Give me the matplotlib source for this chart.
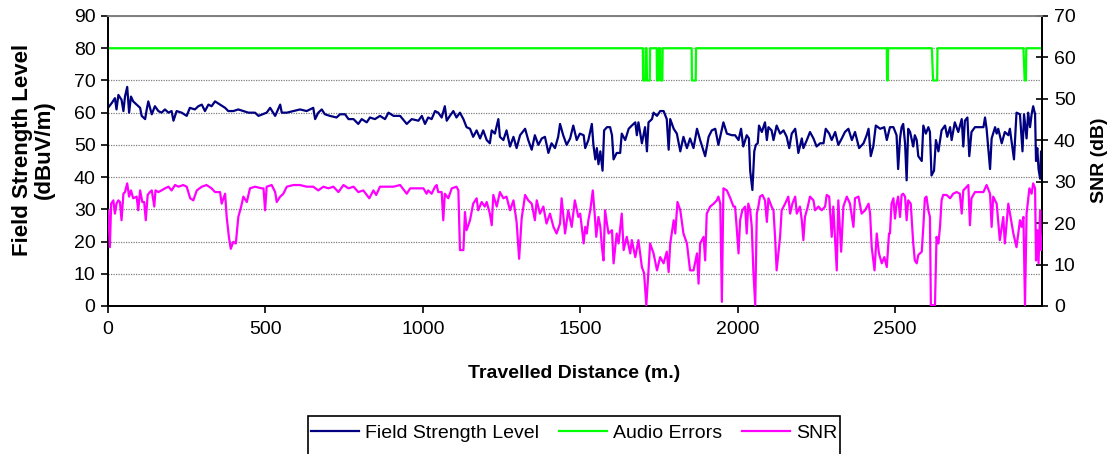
import matplotlib
matplotlib.use("Agg")
import matplotlib.pyplot as plt
from matplotlib.lines import Line2D
from matplotlib.patches import Rectangle

# ---------------- data ----------------
fs_dist = [0, 12, 22, 27, 33, 43, 49, 54, 61, 67, 73, 80, 91, 102, 107, 118, 123, 128, 139, 149,
           160, 170, 181, 192, 202, 208, 218, 234, 250, 260, 276, 287, 298, 308, 319, 329, 340,
           356, 372, 382, 398, 414, 430, 446, 467, 478,
           504, 515, 531, 547, 552, 568, 589, 610, 631, 652, 658, 668, 679, 689, 705, 726, 737,
           753, 764, 780, 795, 806, 822, 832, 848, 864, 880, 891, 907, 928, 949, 965, 986, 997, 1007,
           1017, 1028, 1039, 1049, 1060, 1070, 1076, 1086, 1097, 1107, 1118, 1129, 1139, 1150, 1160,
           1171, 1182, 1192, 1203, 1213, 1219, 1229, 1240, 1245, 1256, 1266, 1277, 1288, 1298, 1309,
           1325, 1335, 1346, 1356, 1367, 1378, 1388, 1399, 1409, 1420, 1430, 1436, 1446, 1457, 1468,
           1478, 1489, 1499,
           1511, 1516, 1526, 1537, 1542, 1548, 1553, 1558, 1564, 1571, 1576, 1585, 1595, 1601, 1606,
           1616, 1627, 1632, 1643, 1654, 1664, 1675, 1680, 1685, 1696, 1706, 1712, 1717, 1728, 1733,
           1744, 1754, 1765, 1775, 1781, 1786, 1797, 1807, 1818, 1828, 1839, 1849, 1860, 1871, 1881,
           1897, 1908, 1918, 1929, 1939, 1955, 1966, 1982,
           1992, 2003, 2011, 2018, 2029, 2036, 2040, 2047, 2053, 2058, 2064, 2068, 2077, 2087, 2093,
           2098, 2108, 2114, 2124, 2135, 2146, 2156, 2164, 2172, 2183, 2188, 2193, 2204, 2209, 2220,
           2230, 2241, 2251, 2262, 2273, 2280, 2291, 2299, 2310, 2320, 2331, 2341, 2352, 2363, 2373,
           2386, 2400, 2410, 2416, 2423, 2431, 2439, 2453, 2466, 2474,
           2484, 2495, 2505, 2510, 2516, 2521, 2526, 2532, 2537, 2542, 2548, 2558, 2563, 2569, 2574,
           2585, 2590, 2598, 2606, 2611, 2616, 2624, 2630, 2638, 2648, 2659, 2666, 2675, 2680, 2690,
           2701, 2712, 2717, 2722, 2730, 2736, 2743, 2754, 2765, 2781, 2786, 2791, 2802, 2807, 2818,
           2823, 2828, 2839, 2849, 2860, 2865, 2878, 2886, 2897, 2905, 2910, 2918, 2923, 2929, 2934,
           2939, 2945, 2948, 2952, 2956, 2961, 2964, 2967]
fs_level = [61.5, 63, 64.5, 61, 65.5, 64, 60.5, 65, 68, 60, 65, 63.5, 62.5, 61.5, 59, 58, 61, 63.5, 59.5, 62,
            60.5, 60, 61, 60, 60.5, 57.5, 60.5, 60, 59, 61.5, 61, 62, 62.5, 60.5, 62.5, 62, 63.5,
            62.5, 61.5, 60.5, 60.5, 61, 60.5, 60, 60, 59,
            60, 61.5, 59, 62.5, 60, 60, 60.5, 61, 60.5, 61.5, 58, 60, 61, 59.5, 59, 58.5, 59.5,
            59.5, 58, 58, 56.5, 58, 57, 58.5, 58, 59, 58, 60, 59, 59, 56.5, 58, 57.5, 59, 56.5,
            58.5, 58, 60.5, 60, 58.5, 62, 57.5, 59, 60.5, 58.5, 60, 58, 55.5, 55, 52.5,
            54.5, 52, 54.5, 51.5, 50.5, 54.5, 53.5, 58, 52.5, 51.5, 54.5, 49.5, 52.5, 49, 53,
            55, 51.5, 48.5, 53, 50, 52, 52.5, 47.5, 50.5, 49, 52.5, 56.5, 53, 50, 52,
            56, 51.5, 53.5,
            53, 49, 51.5, 56.5, 50, 45.5, 49, 44, 48, 42, 54.5, 55.5, 55.5, 53, 45.5,
            47.5, 47.5, 53.5, 51.5, 55, 56, 57, 53, 57, 50.5, 55.5, 48, 57, 58, 60,
            59, 60.5, 60.5, 58, 48.5, 58, 55, 53.5, 48, 52.5, 49, 52, 49, 55, 51.5,
            46.5, 52.5, 54.5, 55, 50, 57, 53.5, 53,
            53, 51.5, 55, 49.5, 53, 52, 42, 36, 48, 50, 50.5, 56, 54, 57, 51.5,
            55.5, 54.5, 51.5, 56, 53.5, 54.5, 52.5, 49, 53.5, 55, 51.5, 47.5, 52, 49, 51.5,
            54, 52, 49.5, 50.5, 50.5, 55, 53.5, 51.5, 54, 50, 52, 54, 55, 51.5, 54,
            49, 50.5, 53, 55, 46.5, 49.5, 56, 55, 55.5, 51.5,
            55.5, 55.5, 53, 42.5, 52, 55.5, 56.5, 50.5, 39, 55, 54, 49.5, 53, 51.5, 46.5,
            45, 56, 53.5, 55.5, 54, 40.5, 42, 51.5, 48, 54.5, 56, 52.5, 55.5, 51.5, 57,
            54, 58, 49.5, 57.5, 58.5, 46.5, 54, 55.5, 55.5, 55.5, 58.5, 55, 42.5, 52, 55.5,
            53.5, 55, 50.5, 54, 53, 55, 45.5, 60, 59.5, 48, 59.5, 52, 60, 55.5, 59.5,
            62, 59.5, 45, 49, 42.5, 39.5, 48, 40.5]

audio_dist = [0, 1699, 1700, 1707, 1708, 1711, 1712, 1721, 1722, 1743, 1744, 1748, 1749, 1754, 1755,
              1761, 1762, 1854, 1855, 1867, 1868, 2474, 2475, 2477, 2478, 2617, 2621, 2634, 2635,
              2908, 2912, 2916, 2917, 2967]
audio_level = [80, 80, 70, 70, 80, 80, 70, 70, 80, 80, 70, 70, 80, 80, 70,
               70, 80, 80, 70, 70, 80, 80, 70, 70, 80, 80, 70, 70, 80,
               80, 70, 70, 80, 80]

snr_dist = [1, 6, 10, 17, 22, 27, 33, 38, 43, 49, 54, 61, 67, 73, 80, 91, 96, 102, 109, 115, 120,
            126, 133, 139, 147, 151, 160, 170, 181, 192, 202, 213, 224, 239, 250, 261, 271, 282,
            298, 313, 329, 340, 356, 361, 372, 377, 384, 390, 398, 406, 414, 423, 430, 441, 451,
            467, 488,
            494, 499, 504, 520, 531, 536, 547, 557, 568, 589, 610, 631, 652, 668, 684, 700, 716,
            732, 748, 764, 780, 795, 811, 830, 843, 852, 864, 885, 907, 928, 949, 960, 981, 1002, 1012,
            1017, 1028, 1039, 1044, 1049, 1060, 1065, 1070, 1081, 1092, 1107, 1113, 1118, 1129, 1134,
            1139, 1150, 1160, 1171, 1176, 1187, 1197, 1203, 1213, 1219, 1224, 1235, 1245, 1256, 1266,
            1277, 1288, 1298, 1306, 1314, 1325, 1335, 1346, 1356, 1362, 1372, 1383, 1393, 1404, 1415,
            1425, 1436, 1441, 1452, 1462, 1473, 1483, 1494,
            1500, 1505, 1511, 1516, 1521, 1526, 1532, 1540, 1546, 1551, 1558, 1564, 1569, 1574, 1579,
            1585, 1590, 1601, 1606, 1616, 1622, 1632, 1638, 1648, 1659, 1664, 1675, 1685, 1696, 1703,
            1710, 1717, 1722, 1733, 1744, 1754, 1765, 1775, 1781, 1786, 1797, 1802, 1809, 1818, 1828,
            1839, 1849, 1860, 1871, 1876, 1881, 1892, 1897, 1902, 1913, 1924, 1934, 1939, 1945, 1950,
            1955, 1966, 1977, 1987,
            1992, 1997, 2003, 2008, 2015, 2024, 2029, 2034, 2040, 2045, 2050, 2056, 2061, 2066, 2071,
            2079, 2087, 2093, 2098, 2108, 2114, 2119, 2124, 2135, 2140, 2151, 2161, 2167, 2174, 2183,
            2188, 2198, 2204, 2209, 2214, 2223, 2230, 2241, 2246, 2257, 2267, 2278, 2283, 2291, 2299,
            2304, 2315, 2320, 2329, 2336, 2347, 2357, 2368, 2373, 2384, 2394, 2405, 2416, 2421, 2426,
            2435, 2442, 2449, 2458, 2466, 2474, 2481,
            2484, 2489, 2495, 2500, 2505, 2510, 2516, 2521, 2526, 2532, 2537, 2542, 2550, 2558, 2563,
            2569, 2574, 2585, 2590, 2595, 2600, 2606, 2611, 2614, 2627, 2632, 2638, 2643, 2648, 2653,
            2664, 2675, 2685, 2696, 2706, 2712, 2717, 2728, 2733, 2738, 2743, 2754, 2765, 2781, 2791,
            2802, 2807, 2812, 2823, 2833, 2844, 2849, 2860, 2867, 2876, 2886, 2897, 2902, 2908, 2913,
            2918, 2927, 2934, 2939, 2945, 2948, 2952, 2956, 2961, 2964, 2967]
snr_db = [23.1, 14.2, 24.7, 25.5, 22.3, 24.7, 25.5, 25.1, 20.7, 27.1, 27.5, 29.6, 26.4, 27.9, 26.0, 26.4, 23.1, 27.9, 25.1, 25.1, 20.7,
          26.8, 27.5, 27.9, 24.0, 27.9, 27.5, 27.9, 28.4, 28.8, 27.9, 29.2, 28.8, 29.2, 28.8, 26.0, 25.5, 27.9,
          28.8, 29.2, 28.4, 27.5, 27.5, 24.7, 27.1, 21.5, 16.7, 13.8, 15.5, 15.1, 21.5, 24.0, 26.4, 25.1, 28.4,
          28.8, 28.4,
          28.4, 23.1, 28.8, 29.2, 27.5, 25.1, 26.4, 27.1, 28.8, 29.2, 29.2, 28.8, 28.8, 27.9, 28.8, 28.4, 28.8,
          27.5, 29.2, 28.4, 28.8, 27.5, 27.9, 26.0, 27.9, 26.8, 28.8, 28.8, 28.8, 29.2, 27.1, 28.4, 28.4, 28.4, 27.1,
          27.9, 27.1, 28.8, 29.2, 27.5, 27.5, 20.7, 27.1, 26.0, 28.4, 28.8, 27.9, 13.5, 13.5, 22.7,
          18.3, 20.7, 24.7, 26.0, 23.1, 25.1, 24.0, 25.1, 22.3, 19.5, 26.8, 24.0, 27.5, 26.0, 26.4,
          23.1, 25.5, 20.3, 11.4, 21.1, 26.8, 25.5, 24.7, 20.7, 25.5, 22.3, 24.0, 19.9, 22.3, 19.1,
          17.5, 19.9, 26.0, 17.5, 23.1, 19.1, 25.5, 21.5,
          22.3, 19.1, 15.1, 19.1, 17.5, 20.7, 23.1, 27.9, 22.3, 16.7, 21.5, 19.1, 14.2, 11.0, 23.1,
          19.9, 17.5, 18.3, 10.3, 17.5, 15.1, 22.3, 13.5, 16.7, 12.7, 15.9, 11.8, 15.9, 9.4, 7.9,
          0.2, 8.6, 15.1, 12.7, 8.6, 11.8, 10.3, 13.1, 8.2, 15.1, 20.7, 17.5, 25.1, 23.1, 17.5,
          15.1, 8.6, 8.6, 12.7, 5.4, 15.1, 16.7, 11.0, 22.3, 24.0, 24.7, 25.5, 26.4, 24.7, 1.0,
          28.4, 27.9, 26.0, 24.0,
          24.0, 19.1, 12.7, 20.7, 23.1, 24.0, 17.5, 24.7, 23.1, 19.1, 8.6, 0.2, 22.3, 24.0, 26.4,
          26.8, 25.5, 20.3, 26.0, 24.0, 23.1, 16.7, 8.6, 16.7, 23.1, 24.7, 26.4, 22.3, 24.7, 26.4,
          22.3, 24.0, 20.7, 15.9, 21.5, 24.0, 26.4, 25.5, 23.1, 24.0, 23.1, 24.0, 26.8, 26.4, 16.7,
          24.0, 8.6, 25.5, 13.1, 24.0, 26.4, 24.7, 19.1, 26.0, 26.4, 22.3, 23.1, 24.7, 22.3, 14.2,
          8.6, 17.5, 12.7, 10.3, 11.8, 9.4, 17.5,
          17.5, 24.7, 26.0, 21.1, 24.7, 26.4, 21.5, 26.8, 27.1, 26.4, 20.7, 25.5, 24.7, 15.1, 11.0,
          10.3, 12.3, 13.1, 19.1, 26.0, 26.4, 23.1, 21.5, 0.2, 0.2, 16.7, 15.1, 19.1, 25.5, 26.8,
          26.8, 26.0, 27.1, 27.5, 27.1, 22.3, 27.9, 28.8, 29.2, 19.5, 26.0, 27.5, 27.5, 27.5, 29.2,
          27.1, 19.1, 26.4, 24.7, 15.9, 21.5, 15.1, 24.7, 21.5, 17.5, 14.2, 20.7, 19.1, 21.5, 0.2,
          22.3, 28.4, 27.1, 29.6, 28.4, 11.0, 18.3, 10.3, 23.1, 13.5, 16.7]

x_ticks = [0, 500, 1000, 1500, 2000, 2500]
left_ticks = [0, 10, 20, 30, 40, 50, 60, 70, 80, 90]
right_ticks = [0, 10, 20, 30, 40, 50, 60, 70]

series_names = ["Field Strength Level", "Audio Errors", "SNR"]
series_colors = ["#000080", "#00FF00", "#FF00FF"]

# ---------------- figure ----------------
plt.rcParams['font.family'] = ['Liberation Sans', 'DejaVu Sans']
W, H = 1115, 454
fig = plt.figure(figsize=(W / 100, H / 100), dpi=100)
L, R, T, B = 108, 1042, 16, 306
ax = fig.add_axes([L / W, 1 - B / H, (R - L) / W, (B - T) / H])
ax2 = ax.twinx()

ax.plot(fs_dist, fs_level, color=series_colors[0], lw=1.6, zorder=3)
ax.plot(audio_dist, audio_level, color=series_colors[1], lw=1.6, zorder=3)
ax2.plot(snr_dist, snr_db, color=series_colors[2], lw=1.6, zorder=3)

ax.set_xlim(0, 2967)
ax.set_ylim(0, 90)
ax2.set_ylim(0, 70)
ax.set_xticks(x_ticks)
ax.set_yticks(left_ticks)
ax2.set_yticks(right_ticks)

ax.yaxis.grid(True, linestyle=(0, (1, 1)), color="#808080", lw=0.9)
ax.set_axisbelow(True)

for a in (ax, ax2):
    a.spines['top'].set_color('#808080')
    a.spines['left'].set_color('black')
    a.spines['right'].set_color('black')
    a.spines['bottom'].set_color('black')
    for s in a.spines.values():
        s.set_linewidth(1.3)

ax.tick_params(axis='y', direction='out', length=5, width=1.2, labelsize=14, pad=4)
ax.tick_params(axis='x', direction='out', length=5, width=1.2, labelsize=14, pad=6)
ax2.tick_params(axis='y', direction='inout', length=9, width=1.2, labelsize=14, pad=4)

fig.text(574 / W, 1 - 373 / H, "Travelled Distance (m.)", ha='center', va='center',
         fontsize=14, fontweight='bold')
fig.text(33 / W, 1 - 150 / H, "Field Strength Level\n(dBuV/m)", ha='center', va='center',
         rotation=90, fontsize=16, fontweight='bold', linespacing=1.05)
fig.text(1100 / W, 1 - 160 / H, "SNR (dB)", ha='center', va='center', rotation=90,
         fontsize=14, fontweight='bold')

# legend box (its bottom edge runs past the lower border of the picture)
fig.patches.append(Rectangle((308 / W, -0.05), (840 - 308) / W, 0.05 + (454 - 416) / H,
                             transform=fig.transFigure, fill=False, edgecolor='black',
                             lw=1.2, zorder=5))
handles = [Line2D([], [], color=c, lw=1.6) for c in series_colors]
leg = fig.legend(handles, series_names, loc='center', ncol=3,
                 bbox_to_anchor=(574 / W, 1 - 433 / H), frameon=False,
                 fontsize=14, handlelength=2.5, handletextpad=0.3,
                 columnspacing=1.0, borderpad=0.3, borderaxespad=0)

fig.savefig("out.png", dpi=100)
